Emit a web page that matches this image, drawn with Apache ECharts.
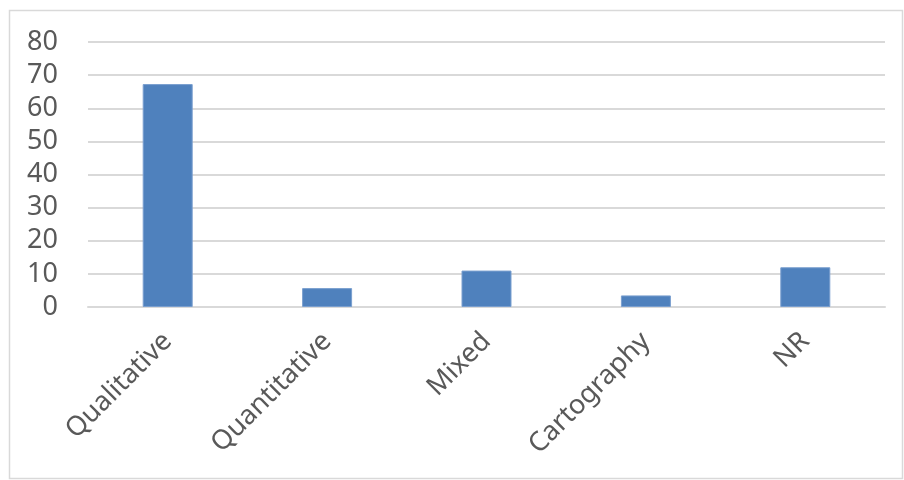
<!DOCTYPE html>
<html>
<head>
<meta charset="utf-8">
<script src="https://cdn.jsdelivr.net/npm/echarts@6/dist/echarts.min.js"></script>
<style>
  html, body { margin: 0; padding: 0; background: #fff; }
  #chart { width: 904px; height: 480px; }
</style>
</head>
<body>
<div id="chart"></div>
<script>
// values
const categories = ['Qualitative', 'Quantitative', 'Mixed', 'Cartography', 'NR'];
const counts = [67.3, 5.7, 11, 3.5, 12];
const yTicks = { min: 0, max: 80, interval: 10 };

const chartObj = echarts.init(document.getElementById('chart'));
const option = {
  animation: false,
  grid: { left: 88, right: 19, top: 42, bottom: 173 },
  graphic: [{
    type: 'rect',
    shape: { x: 9.5, y: 10.5, width: 893, height: 468 },
    style: { fill: 'none', stroke: '#d9d9d9', lineWidth: 1.5 },
    silent: true
  }],
  xAxis: {
    type: 'category',
    data: categories,
    axisTick: { show: false },
    axisLine: { lineStyle: { color: '#d9d9d9', width: 2 } },
    axisLabel: {
      rotate: 45,
      margin: 30,
      color: '#595959',
      fontSize: 27,
      fontFamily: 'Noto Sans'
    }
  },
  yAxis: {
    type: 'value',
    min: yTicks.min,
    max: yTicks.max,
    interval: yTicks.interval,
    axisLine: { show: false },
    axisTick: { show: false },
    axisLabel: {
      margin: 30,
      color: '#595959',
      fontSize: 27,
      fontFamily: 'Noto Sans'
    },
    splitLine: { lineStyle: { color: '#d9d9d9', width: 2 } }
  },
  series: [{
    type: 'bar',
    data: counts,
    barWidth: 50,
    itemStyle: { color: '#4f81bd', borderColor: '#7a9fcf', borderWidth: 1 }
  }]
};
chartObj.setOption(option);
</script>
</body>
</html>
